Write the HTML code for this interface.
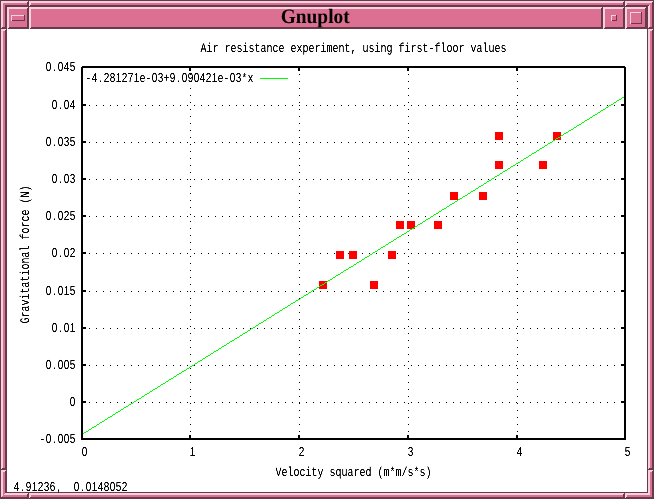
<!DOCTYPE html>
<html lang="en"><head><meta charset="utf-8"><title>Gnuplot</title>
<style>
html,body{margin:0;padding:0;background:#fff;}
body{width:654px;height:499px;overflow:hidden;}
svg{display:block;}
.z{font-family:'Liberation Sans',sans-serif;}
</style></head><body>
<svg width="654" height="499" viewBox="0 0 654 499" shape-rendering="crispEdges" text-rendering="geometricPrecision">
<g id="frame">
<rect x="0" y="0" width="654" height="499" fill="#68384B"/>
<rect x="1" y="1" width="653" height="498" fill="#68384B"/>
<rect x="3" y="3" width="649" height="494" fill="#DC7093"/>
<rect x="1" y="1" width="652" height="1" fill="#F5D2DD"/>
<rect x="1" y="1" width="1" height="498" fill="#F5D2DD"/>
<rect x="1" y="2" width="651" height="1" fill="#F5D2DD"/>
<rect x="2" y="1" width="1" height="497" fill="#F5D2DD"/>
<rect x="5" y="5" width="645" height="490" fill="#F5D2DD"/>
<rect x="7" y="7" width="641" height="486" fill="#DC7093"/>
<rect x="5" y="5" width="644" height="1" fill="#68384B"/>
<rect x="5" y="5" width="1" height="490" fill="#68384B"/>
<rect x="5" y="6" width="643" height="1" fill="#68384B"/>
<rect x="6" y="5" width="1" height="489" fill="#68384B"/>
<rect x="7" y="492" width="641" height="1" fill="#68384B"/>
<rect x="647" y="7" width="1" height="486" fill="#68384B"/>
<rect x="1" y="497" width="2" height="2" fill="#68384B"/>
<rect x="2" y="496" width="1" height="1" fill="#DC7093"/>
<rect x="5" y="493" width="2" height="2" fill="#F5D2DD"/>
<rect x="4" y="494" width="1" height="1" fill="#F5D2DD"/>
<rect x="27" y="2" width="1" height="5" fill="#68384B"/>
<rect x="28" y="1" width="1" height="6" fill="#68384B"/>
<rect x="29" y="1" width="1" height="5" fill="#F5D2DD"/>
<rect x="30" y="1" width="1" height="4" fill="#F5D2DD"/>
<rect x="623" y="2" width="1" height="5" fill="#68384B"/>
<rect x="624" y="1" width="1" height="6" fill="#68384B"/>
<rect x="625" y="1" width="1" height="5" fill="#F5D2DD"/>
<rect x="626" y="1" width="1" height="4" fill="#F5D2DD"/>
<rect x="27" y="494" width="1" height="5" fill="#68384B"/>
<rect x="28" y="493" width="1" height="6" fill="#68384B"/>
<rect x="29" y="493" width="1" height="5" fill="#F5D2DD"/>
<rect x="30" y="493" width="1" height="4" fill="#F5D2DD"/>
<rect x="623" y="494" width="1" height="5" fill="#68384B"/>
<rect x="624" y="493" width="1" height="6" fill="#68384B"/>
<rect x="625" y="493" width="1" height="5" fill="#F5D2DD"/>
<rect x="626" y="493" width="1" height="4" fill="#F5D2DD"/>
<rect x="2" y="27" width="5" height="1" fill="#68384B"/>
<rect x="1" y="28" width="6" height="1" fill="#68384B"/>
<rect x="1" y="29" width="5" height="1" fill="#F5D2DD"/>
<rect x="1" y="30" width="4" height="1" fill="#F5D2DD"/>
<rect x="2" y="468" width="5" height="1" fill="#68384B"/>
<rect x="1" y="469" width="6" height="1" fill="#68384B"/>
<rect x="1" y="470" width="5" height="1" fill="#F5D2DD"/>
<rect x="1" y="471" width="4" height="1" fill="#F5D2DD"/>
<rect x="649" y="27" width="5" height="1" fill="#68384B"/>
<rect x="648" y="28" width="6" height="1" fill="#68384B"/>
<rect x="648" y="29" width="5" height="1" fill="#F5D2DD"/>
<rect x="648" y="30" width="4" height="1" fill="#F5D2DD"/>
<rect x="649" y="468" width="5" height="1" fill="#68384B"/>
<rect x="648" y="469" width="6" height="1" fill="#68384B"/>
<rect x="648" y="470" width="5" height="1" fill="#F5D2DD"/>
<rect x="648" y="471" width="4" height="1" fill="#F5D2DD"/>
</g>
<g id="titlebar">
<rect x="7" y="7" width="22" height="22" fill="#68384B"/>
<rect x="9" y="9" width="18" height="18" fill="#DC7093"/>
<rect x="7" y="7" width="21" height="1" fill="#F5D2DD"/>
<rect x="7" y="7" width="1" height="22" fill="#F5D2DD"/>
<rect x="7" y="8" width="20" height="1" fill="#F5D2DD"/>
<rect x="8" y="7" width="1" height="21" fill="#F5D2DD"/>
<rect x="29" y="7" width="574" height="22" fill="#68384B"/>
<rect x="31" y="9" width="570" height="18" fill="#DC7093"/>
<rect x="29" y="7" width="573" height="1" fill="#F5D2DD"/>
<rect x="29" y="7" width="1" height="22" fill="#F5D2DD"/>
<rect x="29" y="8" width="572" height="1" fill="#F5D2DD"/>
<rect x="30" y="7" width="1" height="21" fill="#F5D2DD"/>
<rect x="603" y="7" width="22" height="22" fill="#68384B"/>
<rect x="605" y="9" width="18" height="18" fill="#DC7093"/>
<rect x="603" y="7" width="21" height="1" fill="#F5D2DD"/>
<rect x="603" y="7" width="1" height="22" fill="#F5D2DD"/>
<rect x="603" y="8" width="20" height="1" fill="#F5D2DD"/>
<rect x="604" y="7" width="1" height="21" fill="#F5D2DD"/>
<rect x="625" y="7" width="22" height="22" fill="#68384B"/>
<rect x="627" y="9" width="18" height="18" fill="#DC7093"/>
<rect x="625" y="7" width="21" height="1" fill="#F5D2DD"/>
<rect x="625" y="7" width="1" height="22" fill="#F5D2DD"/>
<rect x="625" y="8" width="20" height="1" fill="#F5D2DD"/>
<rect x="626" y="7" width="1" height="21" fill="#F5D2DD"/>
<rect x="11" y="15" width="14" height="6" fill="#68384B"/>
<rect x="12" y="16" width="12" height="4" fill="#DC7093"/>
<rect x="11" y="15" width="13" height="1" fill="#F5D2DD"/>
<rect x="11" y="15" width="1" height="6" fill="#F5D2DD"/>
<rect x="611" y="15" width="6" height="6" fill="#68384B"/>
<rect x="612" y="16" width="4" height="4" fill="#DC7093"/>
<rect x="611" y="15" width="5" height="1" fill="#F5D2DD"/>
<rect x="611" y="15" width="1" height="6" fill="#F5D2DD"/>
<rect x="630" y="12" width="12" height="12" fill="#68384B"/>
<rect x="631" y="13" width="10" height="10" fill="#DC7093"/>
<rect x="630" y="12" width="11" height="1" fill="#F5D2DD"/>
<rect x="630" y="12" width="1" height="12" fill="#F5D2DD"/>
<text x="315.2" y="23" text-anchor="middle" font-family="'Liberation Serif',serif" font-weight="bold" font-size="20.4" textLength="69" lengthAdjust="spacingAndGlyphs" fill="#000">Gnuplot</text>
</g>
<rect x="7" y="29" width="640" height="463" fill="#fff"/>
<g id="grid" fill="#000">
<path d="M89 402h1v1h-1zM96 402h1v1h-1zM103 402h1v1h-1zM110 402h1v1h-1zM117 402h1v1h-1zM124 402h1v1h-1zM131 402h1v1h-1zM138 402h1v1h-1zM145 402h1v1h-1zM152 402h1v1h-1zM159 402h1v1h-1zM166 402h1v1h-1zM173 402h1v1h-1zM180 402h1v1h-1zM187 402h1v1h-1zM194 402h1v1h-1zM201 402h1v1h-1zM208 402h1v1h-1zM215 402h1v1h-1zM222 402h1v1h-1zM229 402h1v1h-1zM236 402h1v1h-1zM243 402h1v1h-1zM250 402h1v1h-1zM257 402h1v1h-1zM264 402h1v1h-1zM271 402h1v1h-1zM278 402h1v1h-1zM285 402h1v1h-1zM292 402h1v1h-1zM299 402h1v1h-1zM306 402h1v1h-1zM313 402h1v1h-1zM320 402h1v1h-1zM327 402h1v1h-1zM334 402h1v1h-1zM341 402h1v1h-1zM348 402h1v1h-1zM355 402h1v1h-1zM362 402h1v1h-1zM369 402h1v1h-1zM376 402h1v1h-1zM383 402h1v1h-1zM390 402h1v1h-1zM397 402h1v1h-1zM404 402h1v1h-1zM411 402h1v1h-1zM418 402h1v1h-1zM425 402h1v1h-1zM432 402h1v1h-1zM439 402h1v1h-1zM446 402h1v1h-1zM453 402h1v1h-1zM460 402h1v1h-1zM467 402h1v1h-1zM474 402h1v1h-1zM481 402h1v1h-1zM488 402h1v1h-1zM495 402h1v1h-1zM502 402h1v1h-1zM509 402h1v1h-1zM516 402h1v1h-1zM523 402h1v1h-1zM530 402h1v1h-1zM537 402h1v1h-1zM544 402h1v1h-1zM551 402h1v1h-1zM558 402h1v1h-1zM565 402h1v1h-1zM572 402h1v1h-1zM579 402h1v1h-1zM586 402h1v1h-1zM593 402h1v1h-1zM600 402h1v1h-1zM607 402h1v1h-1zM614 402h1v1h-1zM621 402h1v1h-1zM89 365h1v1h-1zM96 365h1v1h-1zM103 365h1v1h-1zM110 365h1v1h-1zM117 365h1v1h-1zM124 365h1v1h-1zM131 365h1v1h-1zM138 365h1v1h-1zM145 365h1v1h-1zM152 365h1v1h-1zM159 365h1v1h-1zM166 365h1v1h-1zM173 365h1v1h-1zM180 365h1v1h-1zM187 365h1v1h-1zM194 365h1v1h-1zM201 365h1v1h-1zM208 365h1v1h-1zM215 365h1v1h-1zM222 365h1v1h-1zM229 365h1v1h-1zM236 365h1v1h-1zM243 365h1v1h-1zM250 365h1v1h-1zM257 365h1v1h-1zM264 365h1v1h-1zM271 365h1v1h-1zM278 365h1v1h-1zM285 365h1v1h-1zM292 365h1v1h-1zM299 365h1v1h-1zM306 365h1v1h-1zM313 365h1v1h-1zM320 365h1v1h-1zM327 365h1v1h-1zM334 365h1v1h-1zM341 365h1v1h-1zM348 365h1v1h-1zM355 365h1v1h-1zM362 365h1v1h-1zM369 365h1v1h-1zM376 365h1v1h-1zM383 365h1v1h-1zM390 365h1v1h-1zM397 365h1v1h-1zM404 365h1v1h-1zM411 365h1v1h-1zM418 365h1v1h-1zM425 365h1v1h-1zM432 365h1v1h-1zM439 365h1v1h-1zM446 365h1v1h-1zM453 365h1v1h-1zM460 365h1v1h-1zM467 365h1v1h-1zM474 365h1v1h-1zM481 365h1v1h-1zM488 365h1v1h-1zM495 365h1v1h-1zM502 365h1v1h-1zM509 365h1v1h-1zM516 365h1v1h-1zM523 365h1v1h-1zM530 365h1v1h-1zM537 365h1v1h-1zM544 365h1v1h-1zM551 365h1v1h-1zM558 365h1v1h-1zM565 365h1v1h-1zM572 365h1v1h-1zM579 365h1v1h-1zM586 365h1v1h-1zM593 365h1v1h-1zM600 365h1v1h-1zM607 365h1v1h-1zM614 365h1v1h-1zM621 365h1v1h-1zM89 328h1v1h-1zM96 328h1v1h-1zM103 328h1v1h-1zM110 328h1v1h-1zM117 328h1v1h-1zM124 328h1v1h-1zM131 328h1v1h-1zM138 328h1v1h-1zM145 328h1v1h-1zM152 328h1v1h-1zM159 328h1v1h-1zM166 328h1v1h-1zM173 328h1v1h-1zM180 328h1v1h-1zM187 328h1v1h-1zM194 328h1v1h-1zM201 328h1v1h-1zM208 328h1v1h-1zM215 328h1v1h-1zM222 328h1v1h-1zM229 328h1v1h-1zM236 328h1v1h-1zM243 328h1v1h-1zM250 328h1v1h-1zM257 328h1v1h-1zM264 328h1v1h-1zM271 328h1v1h-1zM278 328h1v1h-1zM285 328h1v1h-1zM292 328h1v1h-1zM299 328h1v1h-1zM306 328h1v1h-1zM313 328h1v1h-1zM320 328h1v1h-1zM327 328h1v1h-1zM334 328h1v1h-1zM341 328h1v1h-1zM348 328h1v1h-1zM355 328h1v1h-1zM362 328h1v1h-1zM369 328h1v1h-1zM376 328h1v1h-1zM383 328h1v1h-1zM390 328h1v1h-1zM397 328h1v1h-1zM404 328h1v1h-1zM411 328h1v1h-1zM418 328h1v1h-1zM425 328h1v1h-1zM432 328h1v1h-1zM439 328h1v1h-1zM446 328h1v1h-1zM453 328h1v1h-1zM460 328h1v1h-1zM467 328h1v1h-1zM474 328h1v1h-1zM481 328h1v1h-1zM488 328h1v1h-1zM495 328h1v1h-1zM502 328h1v1h-1zM509 328h1v1h-1zM516 328h1v1h-1zM523 328h1v1h-1zM530 328h1v1h-1zM537 328h1v1h-1zM544 328h1v1h-1zM551 328h1v1h-1zM558 328h1v1h-1zM565 328h1v1h-1zM572 328h1v1h-1zM579 328h1v1h-1zM586 328h1v1h-1zM593 328h1v1h-1zM600 328h1v1h-1zM607 328h1v1h-1zM614 328h1v1h-1zM621 328h1v1h-1zM89 291h1v1h-1zM96 291h1v1h-1zM103 291h1v1h-1zM110 291h1v1h-1zM117 291h1v1h-1zM124 291h1v1h-1zM131 291h1v1h-1zM138 291h1v1h-1zM145 291h1v1h-1zM152 291h1v1h-1zM159 291h1v1h-1zM166 291h1v1h-1zM173 291h1v1h-1zM180 291h1v1h-1zM187 291h1v1h-1zM194 291h1v1h-1zM201 291h1v1h-1zM208 291h1v1h-1zM215 291h1v1h-1zM222 291h1v1h-1zM229 291h1v1h-1zM236 291h1v1h-1zM243 291h1v1h-1zM250 291h1v1h-1zM257 291h1v1h-1zM264 291h1v1h-1zM271 291h1v1h-1zM278 291h1v1h-1zM285 291h1v1h-1zM292 291h1v1h-1zM299 291h1v1h-1zM306 291h1v1h-1zM313 291h1v1h-1zM320 291h1v1h-1zM327 291h1v1h-1zM334 291h1v1h-1zM341 291h1v1h-1zM348 291h1v1h-1zM355 291h1v1h-1zM362 291h1v1h-1zM369 291h1v1h-1zM376 291h1v1h-1zM383 291h1v1h-1zM390 291h1v1h-1zM397 291h1v1h-1zM404 291h1v1h-1zM411 291h1v1h-1zM418 291h1v1h-1zM425 291h1v1h-1zM432 291h1v1h-1zM439 291h1v1h-1zM446 291h1v1h-1zM453 291h1v1h-1zM460 291h1v1h-1zM467 291h1v1h-1zM474 291h1v1h-1zM481 291h1v1h-1zM488 291h1v1h-1zM495 291h1v1h-1zM502 291h1v1h-1zM509 291h1v1h-1zM516 291h1v1h-1zM523 291h1v1h-1zM530 291h1v1h-1zM537 291h1v1h-1zM544 291h1v1h-1zM551 291h1v1h-1zM558 291h1v1h-1zM565 291h1v1h-1zM572 291h1v1h-1zM579 291h1v1h-1zM586 291h1v1h-1zM593 291h1v1h-1zM600 291h1v1h-1zM607 291h1v1h-1zM614 291h1v1h-1zM621 291h1v1h-1zM89 253h1v1h-1zM96 253h1v1h-1zM103 253h1v1h-1zM110 253h1v1h-1zM117 253h1v1h-1zM124 253h1v1h-1zM131 253h1v1h-1zM138 253h1v1h-1zM145 253h1v1h-1zM152 253h1v1h-1zM159 253h1v1h-1zM166 253h1v1h-1zM173 253h1v1h-1zM180 253h1v1h-1zM187 253h1v1h-1zM194 253h1v1h-1zM201 253h1v1h-1zM208 253h1v1h-1zM215 253h1v1h-1zM222 253h1v1h-1zM229 253h1v1h-1zM236 253h1v1h-1zM243 253h1v1h-1zM250 253h1v1h-1zM257 253h1v1h-1zM264 253h1v1h-1zM271 253h1v1h-1zM278 253h1v1h-1zM285 253h1v1h-1zM292 253h1v1h-1zM299 253h1v1h-1zM306 253h1v1h-1zM313 253h1v1h-1zM320 253h1v1h-1zM327 253h1v1h-1zM334 253h1v1h-1zM341 253h1v1h-1zM348 253h1v1h-1zM355 253h1v1h-1zM362 253h1v1h-1zM369 253h1v1h-1zM376 253h1v1h-1zM383 253h1v1h-1zM390 253h1v1h-1zM397 253h1v1h-1zM404 253h1v1h-1zM411 253h1v1h-1zM418 253h1v1h-1zM425 253h1v1h-1zM432 253h1v1h-1zM439 253h1v1h-1zM446 253h1v1h-1zM453 253h1v1h-1zM460 253h1v1h-1zM467 253h1v1h-1zM474 253h1v1h-1zM481 253h1v1h-1zM488 253h1v1h-1zM495 253h1v1h-1zM502 253h1v1h-1zM509 253h1v1h-1zM516 253h1v1h-1zM523 253h1v1h-1zM530 253h1v1h-1zM537 253h1v1h-1zM544 253h1v1h-1zM551 253h1v1h-1zM558 253h1v1h-1zM565 253h1v1h-1zM572 253h1v1h-1zM579 253h1v1h-1zM586 253h1v1h-1zM593 253h1v1h-1zM600 253h1v1h-1zM607 253h1v1h-1zM614 253h1v1h-1zM621 253h1v1h-1zM89 216h1v1h-1zM96 216h1v1h-1zM103 216h1v1h-1zM110 216h1v1h-1zM117 216h1v1h-1zM124 216h1v1h-1zM131 216h1v1h-1zM138 216h1v1h-1zM145 216h1v1h-1zM152 216h1v1h-1zM159 216h1v1h-1zM166 216h1v1h-1zM173 216h1v1h-1zM180 216h1v1h-1zM187 216h1v1h-1zM194 216h1v1h-1zM201 216h1v1h-1zM208 216h1v1h-1zM215 216h1v1h-1zM222 216h1v1h-1zM229 216h1v1h-1zM236 216h1v1h-1zM243 216h1v1h-1zM250 216h1v1h-1zM257 216h1v1h-1zM264 216h1v1h-1zM271 216h1v1h-1zM278 216h1v1h-1zM285 216h1v1h-1zM292 216h1v1h-1zM299 216h1v1h-1zM306 216h1v1h-1zM313 216h1v1h-1zM320 216h1v1h-1zM327 216h1v1h-1zM334 216h1v1h-1zM341 216h1v1h-1zM348 216h1v1h-1zM355 216h1v1h-1zM362 216h1v1h-1zM369 216h1v1h-1zM376 216h1v1h-1zM383 216h1v1h-1zM390 216h1v1h-1zM397 216h1v1h-1zM404 216h1v1h-1zM411 216h1v1h-1zM418 216h1v1h-1zM425 216h1v1h-1zM432 216h1v1h-1zM439 216h1v1h-1zM446 216h1v1h-1zM453 216h1v1h-1zM460 216h1v1h-1zM467 216h1v1h-1zM474 216h1v1h-1zM481 216h1v1h-1zM488 216h1v1h-1zM495 216h1v1h-1zM502 216h1v1h-1zM509 216h1v1h-1zM516 216h1v1h-1zM523 216h1v1h-1zM530 216h1v1h-1zM537 216h1v1h-1zM544 216h1v1h-1zM551 216h1v1h-1zM558 216h1v1h-1zM565 216h1v1h-1zM572 216h1v1h-1zM579 216h1v1h-1zM586 216h1v1h-1zM593 216h1v1h-1zM600 216h1v1h-1zM607 216h1v1h-1zM614 216h1v1h-1zM621 216h1v1h-1zM89 179h1v1h-1zM96 179h1v1h-1zM103 179h1v1h-1zM110 179h1v1h-1zM117 179h1v1h-1zM124 179h1v1h-1zM131 179h1v1h-1zM138 179h1v1h-1zM145 179h1v1h-1zM152 179h1v1h-1zM159 179h1v1h-1zM166 179h1v1h-1zM173 179h1v1h-1zM180 179h1v1h-1zM187 179h1v1h-1zM194 179h1v1h-1zM201 179h1v1h-1zM208 179h1v1h-1zM215 179h1v1h-1zM222 179h1v1h-1zM229 179h1v1h-1zM236 179h1v1h-1zM243 179h1v1h-1zM250 179h1v1h-1zM257 179h1v1h-1zM264 179h1v1h-1zM271 179h1v1h-1zM278 179h1v1h-1zM285 179h1v1h-1zM292 179h1v1h-1zM299 179h1v1h-1zM306 179h1v1h-1zM313 179h1v1h-1zM320 179h1v1h-1zM327 179h1v1h-1zM334 179h1v1h-1zM341 179h1v1h-1zM348 179h1v1h-1zM355 179h1v1h-1zM362 179h1v1h-1zM369 179h1v1h-1zM376 179h1v1h-1zM383 179h1v1h-1zM390 179h1v1h-1zM397 179h1v1h-1zM404 179h1v1h-1zM411 179h1v1h-1zM418 179h1v1h-1zM425 179h1v1h-1zM432 179h1v1h-1zM439 179h1v1h-1zM446 179h1v1h-1zM453 179h1v1h-1zM460 179h1v1h-1zM467 179h1v1h-1zM474 179h1v1h-1zM481 179h1v1h-1zM488 179h1v1h-1zM495 179h1v1h-1zM502 179h1v1h-1zM509 179h1v1h-1zM516 179h1v1h-1zM523 179h1v1h-1zM530 179h1v1h-1zM537 179h1v1h-1zM544 179h1v1h-1zM551 179h1v1h-1zM558 179h1v1h-1zM565 179h1v1h-1zM572 179h1v1h-1zM579 179h1v1h-1zM586 179h1v1h-1zM593 179h1v1h-1zM600 179h1v1h-1zM607 179h1v1h-1zM614 179h1v1h-1zM621 179h1v1h-1zM89 142h1v1h-1zM96 142h1v1h-1zM103 142h1v1h-1zM110 142h1v1h-1zM117 142h1v1h-1zM124 142h1v1h-1zM131 142h1v1h-1zM138 142h1v1h-1zM145 142h1v1h-1zM152 142h1v1h-1zM159 142h1v1h-1zM166 142h1v1h-1zM173 142h1v1h-1zM180 142h1v1h-1zM187 142h1v1h-1zM194 142h1v1h-1zM201 142h1v1h-1zM208 142h1v1h-1zM215 142h1v1h-1zM222 142h1v1h-1zM229 142h1v1h-1zM236 142h1v1h-1zM243 142h1v1h-1zM250 142h1v1h-1zM257 142h1v1h-1zM264 142h1v1h-1zM271 142h1v1h-1zM278 142h1v1h-1zM285 142h1v1h-1zM292 142h1v1h-1zM299 142h1v1h-1zM306 142h1v1h-1zM313 142h1v1h-1zM320 142h1v1h-1zM327 142h1v1h-1zM334 142h1v1h-1zM341 142h1v1h-1zM348 142h1v1h-1zM355 142h1v1h-1zM362 142h1v1h-1zM369 142h1v1h-1zM376 142h1v1h-1zM383 142h1v1h-1zM390 142h1v1h-1zM397 142h1v1h-1zM404 142h1v1h-1zM411 142h1v1h-1zM418 142h1v1h-1zM425 142h1v1h-1zM432 142h1v1h-1zM439 142h1v1h-1zM446 142h1v1h-1zM453 142h1v1h-1zM460 142h1v1h-1zM467 142h1v1h-1zM474 142h1v1h-1zM481 142h1v1h-1zM488 142h1v1h-1zM495 142h1v1h-1zM502 142h1v1h-1zM509 142h1v1h-1zM516 142h1v1h-1zM523 142h1v1h-1zM530 142h1v1h-1zM537 142h1v1h-1zM544 142h1v1h-1zM551 142h1v1h-1zM558 142h1v1h-1zM565 142h1v1h-1zM572 142h1v1h-1zM579 142h1v1h-1zM586 142h1v1h-1zM593 142h1v1h-1zM600 142h1v1h-1zM607 142h1v1h-1zM614 142h1v1h-1zM621 142h1v1h-1zM89 105h1v1h-1zM96 105h1v1h-1zM103 105h1v1h-1zM110 105h1v1h-1zM117 105h1v1h-1zM124 105h1v1h-1zM131 105h1v1h-1zM138 105h1v1h-1zM145 105h1v1h-1zM152 105h1v1h-1zM159 105h1v1h-1zM166 105h1v1h-1zM173 105h1v1h-1zM180 105h1v1h-1zM187 105h1v1h-1zM194 105h1v1h-1zM201 105h1v1h-1zM208 105h1v1h-1zM215 105h1v1h-1zM222 105h1v1h-1zM229 105h1v1h-1zM236 105h1v1h-1zM243 105h1v1h-1zM250 105h1v1h-1zM257 105h1v1h-1zM264 105h1v1h-1zM271 105h1v1h-1zM278 105h1v1h-1zM285 105h1v1h-1zM292 105h1v1h-1zM299 105h1v1h-1zM306 105h1v1h-1zM313 105h1v1h-1zM320 105h1v1h-1zM327 105h1v1h-1zM334 105h1v1h-1zM341 105h1v1h-1zM348 105h1v1h-1zM355 105h1v1h-1zM362 105h1v1h-1zM369 105h1v1h-1zM376 105h1v1h-1zM383 105h1v1h-1zM390 105h1v1h-1zM397 105h1v1h-1zM404 105h1v1h-1zM411 105h1v1h-1zM418 105h1v1h-1zM425 105h1v1h-1zM432 105h1v1h-1zM439 105h1v1h-1zM446 105h1v1h-1zM453 105h1v1h-1zM460 105h1v1h-1zM467 105h1v1h-1zM474 105h1v1h-1zM481 105h1v1h-1zM488 105h1v1h-1zM495 105h1v1h-1zM502 105h1v1h-1zM509 105h1v1h-1zM516 105h1v1h-1zM523 105h1v1h-1zM530 105h1v1h-1zM537 105h1v1h-1zM544 105h1v1h-1zM551 105h1v1h-1zM558 105h1v1h-1zM565 105h1v1h-1zM572 105h1v1h-1zM579 105h1v1h-1zM586 105h1v1h-1zM593 105h1v1h-1zM600 105h1v1h-1zM607 105h1v1h-1zM614 105h1v1h-1zM621 105h1v1h-1zM190 74h1v1h-1zM190 81h1v1h-1zM190 88h1v1h-1zM190 95h1v1h-1zM190 102h1v1h-1zM190 109h1v1h-1zM190 116h1v1h-1zM190 123h1v1h-1zM190 130h1v1h-1zM190 137h1v1h-1zM190 144h1v1h-1zM190 151h1v1h-1zM190 158h1v1h-1zM190 165h1v1h-1zM190 172h1v1h-1zM190 179h1v1h-1zM190 186h1v1h-1zM190 193h1v1h-1zM190 200h1v1h-1zM190 207h1v1h-1zM190 214h1v1h-1zM190 221h1v1h-1zM190 228h1v1h-1zM190 235h1v1h-1zM190 242h1v1h-1zM190 249h1v1h-1zM190 256h1v1h-1zM190 263h1v1h-1zM190 270h1v1h-1zM190 277h1v1h-1zM190 284h1v1h-1zM190 291h1v1h-1zM190 298h1v1h-1zM190 305h1v1h-1zM190 312h1v1h-1zM190 319h1v1h-1zM190 326h1v1h-1zM190 333h1v1h-1zM190 340h1v1h-1zM190 347h1v1h-1zM190 354h1v1h-1zM190 361h1v1h-1zM190 368h1v1h-1zM190 375h1v1h-1zM190 382h1v1h-1zM190 389h1v1h-1zM190 396h1v1h-1zM190 403h1v1h-1zM190 410h1v1h-1zM190 417h1v1h-1zM190 424h1v1h-1zM190 431h1v1h-1zM299 74h1v1h-1zM299 81h1v1h-1zM299 88h1v1h-1zM299 95h1v1h-1zM299 102h1v1h-1zM299 109h1v1h-1zM299 116h1v1h-1zM299 123h1v1h-1zM299 130h1v1h-1zM299 137h1v1h-1zM299 144h1v1h-1zM299 151h1v1h-1zM299 158h1v1h-1zM299 165h1v1h-1zM299 172h1v1h-1zM299 179h1v1h-1zM299 186h1v1h-1zM299 193h1v1h-1zM299 200h1v1h-1zM299 207h1v1h-1zM299 214h1v1h-1zM299 221h1v1h-1zM299 228h1v1h-1zM299 235h1v1h-1zM299 242h1v1h-1zM299 249h1v1h-1zM299 256h1v1h-1zM299 263h1v1h-1zM299 270h1v1h-1zM299 277h1v1h-1zM299 284h1v1h-1zM299 291h1v1h-1zM299 298h1v1h-1zM299 305h1v1h-1zM299 312h1v1h-1zM299 319h1v1h-1zM299 326h1v1h-1zM299 333h1v1h-1zM299 340h1v1h-1zM299 347h1v1h-1zM299 354h1v1h-1zM299 361h1v1h-1zM299 368h1v1h-1zM299 375h1v1h-1zM299 382h1v1h-1zM299 389h1v1h-1zM299 396h1v1h-1zM299 403h1v1h-1zM299 410h1v1h-1zM299 417h1v1h-1zM299 424h1v1h-1zM299 431h1v1h-1zM408 74h1v1h-1zM408 81h1v1h-1zM408 88h1v1h-1zM408 95h1v1h-1zM408 102h1v1h-1zM408 109h1v1h-1zM408 116h1v1h-1zM408 123h1v1h-1zM408 130h1v1h-1zM408 137h1v1h-1zM408 144h1v1h-1zM408 151h1v1h-1zM408 158h1v1h-1zM408 165h1v1h-1zM408 172h1v1h-1zM408 179h1v1h-1zM408 186h1v1h-1zM408 193h1v1h-1zM408 200h1v1h-1zM408 207h1v1h-1zM408 214h1v1h-1zM408 221h1v1h-1zM408 228h1v1h-1zM408 235h1v1h-1zM408 242h1v1h-1zM408 249h1v1h-1zM408 256h1v1h-1zM408 263h1v1h-1zM408 270h1v1h-1zM408 277h1v1h-1zM408 284h1v1h-1zM408 291h1v1h-1zM408 298h1v1h-1zM408 305h1v1h-1zM408 312h1v1h-1zM408 319h1v1h-1zM408 326h1v1h-1zM408 333h1v1h-1zM408 340h1v1h-1zM408 347h1v1h-1zM408 354h1v1h-1zM408 361h1v1h-1zM408 368h1v1h-1zM408 375h1v1h-1zM408 382h1v1h-1zM408 389h1v1h-1zM408 396h1v1h-1zM408 403h1v1h-1zM408 410h1v1h-1zM408 417h1v1h-1zM408 424h1v1h-1zM408 431h1v1h-1zM517 74h1v1h-1zM517 81h1v1h-1zM517 88h1v1h-1zM517 95h1v1h-1zM517 102h1v1h-1zM517 109h1v1h-1zM517 116h1v1h-1zM517 123h1v1h-1zM517 130h1v1h-1zM517 137h1v1h-1zM517 144h1v1h-1zM517 151h1v1h-1zM517 158h1v1h-1zM517 165h1v1h-1zM517 172h1v1h-1zM517 179h1v1h-1zM517 186h1v1h-1zM517 193h1v1h-1zM517 200h1v1h-1zM517 207h1v1h-1zM517 214h1v1h-1zM517 221h1v1h-1zM517 228h1v1h-1zM517 235h1v1h-1zM517 242h1v1h-1zM517 249h1v1h-1zM517 256h1v1h-1zM517 263h1v1h-1zM517 270h1v1h-1zM517 277h1v1h-1zM517 284h1v1h-1zM517 291h1v1h-1zM517 298h1v1h-1zM517 305h1v1h-1zM517 312h1v1h-1zM517 319h1v1h-1zM517 326h1v1h-1zM517 333h1v1h-1zM517 340h1v1h-1zM517 347h1v1h-1zM517 354h1v1h-1zM517 361h1v1h-1zM517 368h1v1h-1zM517 375h1v1h-1zM517 382h1v1h-1zM517 389h1v1h-1zM517 396h1v1h-1zM517 403h1v1h-1zM517 410h1v1h-1zM517 417h1v1h-1zM517 424h1v1h-1zM517 431h1v1h-1z"/>
</g>
<g id="points" fill="#f00">
<rect x="319" y="281" width="8" height="8" fill="#f00"/>
<rect x="336" y="251" width="8" height="8" fill="#f00"/>
<rect x="349" y="251" width="8" height="8" fill="#f00"/>
<rect x="370" y="281" width="8" height="8" fill="#f00"/>
<rect x="388" y="251" width="8" height="8" fill="#f00"/>
<rect x="396" y="221" width="8" height="8" fill="#f00"/>
<rect x="407" y="221" width="8" height="8" fill="#f00"/>
<rect x="434" y="221" width="8" height="8" fill="#f00"/>
<rect x="450" y="192" width="8" height="8" fill="#f00"/>
<rect x="479" y="192" width="8" height="8" fill="#f00"/>
<rect x="495" y="132" width="8" height="8" fill="#f00"/>
<rect x="495" y="161" width="8" height="8" fill="#f00"/>
<rect x="539" y="161" width="8" height="8" fill="#f00"/>
<rect x="553" y="132" width="8" height="8" fill="#f00"/>
</g>
<g id="axes" fill="#000">
<path fill-rule="evenodd" d="M82 66H625V67H626V440H81V67H82ZM83 68V438H624V68Z"/>
<rect x="83" y="401" width="3" height="2" fill="#000"/>
<rect x="621" y="401" width="3" height="2" fill="#000"/>
<rect x="83" y="364" width="3" height="2" fill="#000"/>
<rect x="621" y="364" width="3" height="2" fill="#000"/>
<rect x="83" y="327" width="3" height="2" fill="#000"/>
<rect x="621" y="327" width="3" height="2" fill="#000"/>
<rect x="83" y="290" width="3" height="2" fill="#000"/>
<rect x="621" y="290" width="3" height="2" fill="#000"/>
<rect x="83" y="252" width="3" height="2" fill="#000"/>
<rect x="621" y="252" width="3" height="2" fill="#000"/>
<rect x="83" y="215" width="3" height="2" fill="#000"/>
<rect x="621" y="215" width="3" height="2" fill="#000"/>
<rect x="83" y="178" width="3" height="2" fill="#000"/>
<rect x="621" y="178" width="3" height="2" fill="#000"/>
<rect x="83" y="141" width="3" height="2" fill="#000"/>
<rect x="621" y="141" width="3" height="2" fill="#000"/>
<rect x="83" y="104" width="3" height="2" fill="#000"/>
<rect x="621" y="104" width="3" height="2" fill="#000"/>
<rect x="189" y="68" width="2" height="3" fill="#000"/>
<rect x="189" y="435" width="2" height="3" fill="#000"/>
<rect x="298" y="68" width="2" height="3" fill="#000"/>
<rect x="298" y="435" width="2" height="3" fill="#000"/>
<rect x="407" y="68" width="2" height="3" fill="#000"/>
<rect x="407" y="435" width="2" height="3" fill="#000"/>
<rect x="516" y="68" width="2" height="3" fill="#000"/>
<rect x="516" y="435" width="2" height="3" fill="#000"/>
</g>
<g id="fit" fill="#00ff00">
<path d="M83 433h1v1h-1zM84 432h2v1h-2zM86 431h2v1h-2zM88 430h1v1h-1zM89 429h2v1h-2zM91 428h1v1h-1zM92 427h2v1h-2zM94 426h2v1h-2zM96 425h1v1h-1zM97 424h2v1h-2zM99 423h1v1h-1zM100 422h2v1h-2zM102 421h2v1h-2zM104 420h1v1h-1zM105 419h2v1h-2zM107 418h1v1h-1zM108 417h2v1h-2zM110 416h2v1h-2zM112 415h1v1h-1zM113 414h2v1h-2zM115 413h1v1h-1zM116 412h2v1h-2zM118 411h2v1h-2zM120 410h1v1h-1zM121 409h2v1h-2zM123 408h1v1h-1zM124 407h2v1h-2zM126 406h2v1h-2zM128 405h1v1h-1zM129 404h2v1h-2zM131 403h2v1h-2zM133 402h1v1h-1zM134 401h2v1h-2zM136 400h1v1h-1zM137 399h2v1h-2zM139 398h2v1h-2zM141 397h1v1h-1zM142 396h2v1h-2zM144 395h1v1h-1zM145 394h2v1h-2zM147 393h2v1h-2zM149 392h1v1h-1zM150 391h2v1h-2zM152 390h1v1h-1zM153 389h2v1h-2zM155 388h2v1h-2zM157 387h1v1h-1zM158 386h2v1h-2zM160 385h1v1h-1zM161 384h2v1h-2zM163 383h2v1h-2zM165 382h1v1h-1zM166 381h2v1h-2zM168 380h1v1h-1zM169 379h2v1h-2zM171 378h2v1h-2zM173 377h1v1h-1zM174 376h2v1h-2zM176 375h1v1h-1zM177 374h2v1h-2zM179 373h2v1h-2zM181 372h1v1h-1zM182 371h2v1h-2zM184 370h2v1h-2zM186 369h1v1h-1zM187 368h2v1h-2zM189 367h1v1h-1zM190 366h2v1h-2zM192 365h2v1h-2zM194 364h1v1h-1zM195 363h2v1h-2zM197 362h1v1h-1zM198 361h2v1h-2zM200 360h2v1h-2zM202 359h1v1h-1zM203 358h2v1h-2zM205 357h1v1h-1zM206 356h2v1h-2zM208 355h2v1h-2zM210 354h1v1h-1zM211 353h2v1h-2zM213 352h1v1h-1zM214 351h2v1h-2zM216 350h2v1h-2zM218 349h1v1h-1zM219 348h2v1h-2zM221 347h1v1h-1zM222 346h2v1h-2zM224 345h2v1h-2zM226 344h1v1h-1zM227 343h2v1h-2zM229 342h1v1h-1zM230 341h2v1h-2zM232 340h2v1h-2zM234 339h1v1h-1zM235 338h2v1h-2zM237 337h2v1h-2zM239 336h1v1h-1zM240 335h2v1h-2zM242 334h1v1h-1zM243 333h2v1h-2zM245 332h2v1h-2zM247 331h1v1h-1zM248 330h2v1h-2zM250 329h1v1h-1zM251 328h2v1h-2zM253 327h2v1h-2zM255 326h1v1h-1zM256 325h2v1h-2zM258 324h1v1h-1zM259 323h2v1h-2zM261 322h2v1h-2zM263 321h1v1h-1zM264 320h2v1h-2zM266 319h1v1h-1zM267 318h2v1h-2zM269 317h2v1h-2zM271 316h1v1h-1zM272 315h2v1h-2zM274 314h1v1h-1zM275 313h2v1h-2zM277 312h2v1h-2zM279 311h1v1h-1zM280 310h2v1h-2zM282 309h1v1h-1zM283 308h2v1h-2zM285 307h2v1h-2zM287 306h1v1h-1zM288 305h2v1h-2zM290 304h1v1h-1zM291 303h2v1h-2zM293 302h2v1h-2zM295 301h1v1h-1zM296 300h2v1h-2zM298 299h2v1h-2zM300 298h1v1h-1zM301 297h2v1h-2zM303 296h1v1h-1zM304 295h2v1h-2zM306 294h2v1h-2zM308 293h1v1h-1zM309 292h2v1h-2zM311 291h1v1h-1zM312 290h2v1h-2zM314 289h2v1h-2zM316 288h1v1h-1zM317 287h2v1h-2zM319 286h1v1h-1zM320 285h2v1h-2zM322 284h2v1h-2zM324 283h1v1h-1zM325 282h2v1h-2zM327 281h1v1h-1zM328 280h2v1h-2zM330 279h2v1h-2zM332 278h1v1h-1zM333 277h2v1h-2zM335 276h1v1h-1zM336 275h2v1h-2zM338 274h2v1h-2zM340 273h1v1h-1zM341 272h2v1h-2zM343 271h1v1h-1zM344 270h2v1h-2zM346 269h2v1h-2zM348 268h1v1h-1zM349 267h2v1h-2zM351 266h2v1h-2zM353 265h1v1h-1zM354 264h2v1h-2zM356 263h1v1h-1zM357 262h2v1h-2zM359 261h2v1h-2zM361 260h1v1h-1zM362 259h2v1h-2zM364 258h1v1h-1zM365 257h2v1h-2zM367 256h2v1h-2zM369 255h1v1h-1zM370 254h2v1h-2zM372 253h1v1h-1zM373 252h2v1h-2zM375 251h2v1h-2zM377 250h1v1h-1zM378 249h2v1h-2zM380 248h1v1h-1zM381 247h2v1h-2zM383 246h2v1h-2zM385 245h1v1h-1zM386 244h2v1h-2zM388 243h1v1h-1zM389 242h2v1h-2zM391 241h2v1h-2zM393 240h1v1h-1zM394 239h2v1h-2zM396 238h1v1h-1zM397 237h2v1h-2zM399 236h2v1h-2zM401 235h1v1h-1zM402 234h2v1h-2zM404 233h2v1h-2zM406 232h1v1h-1zM407 231h2v1h-2zM409 230h1v1h-1zM410 229h2v1h-2zM412 228h2v1h-2zM414 227h1v1h-1zM415 226h2v1h-2zM417 225h1v1h-1zM418 224h2v1h-2zM420 223h2v1h-2zM422 222h1v1h-1zM423 221h2v1h-2zM425 220h1v1h-1zM426 219h2v1h-2zM428 218h2v1h-2zM430 217h1v1h-1zM431 216h2v1h-2zM433 215h1v1h-1zM434 214h2v1h-2zM436 213h2v1h-2zM438 212h1v1h-1zM439 211h2v1h-2zM441 210h1v1h-1zM442 209h2v1h-2zM444 208h2v1h-2zM446 207h1v1h-1zM447 206h2v1h-2zM449 205h1v1h-1zM450 204h2v1h-2zM452 203h2v1h-2zM454 202h1v1h-1zM455 201h2v1h-2zM457 200h1v1h-1zM458 199h2v1h-2zM460 198h2v1h-2zM462 197h1v1h-1zM463 196h2v1h-2zM465 195h2v1h-2zM467 194h1v1h-1zM468 193h2v1h-2zM470 192h1v1h-1zM471 191h2v1h-2zM473 190h2v1h-2zM475 189h1v1h-1zM476 188h2v1h-2zM478 187h1v1h-1zM479 186h2v1h-2zM481 185h2v1h-2zM483 184h1v1h-1zM484 183h2v1h-2zM486 182h1v1h-1zM487 181h2v1h-2zM489 180h2v1h-2zM491 179h1v1h-1zM492 178h2v1h-2zM494 177h1v1h-1zM495 176h2v1h-2zM497 175h2v1h-2zM499 174h1v1h-1zM500 173h2v1h-2zM502 172h1v1h-1zM503 171h2v1h-2zM505 170h2v1h-2zM507 169h1v1h-1zM508 168h2v1h-2zM510 167h1v1h-1zM511 166h2v1h-2zM513 165h2v1h-2zM515 164h1v1h-1zM516 163h2v1h-2zM518 162h2v1h-2zM520 161h1v1h-1zM521 160h2v1h-2zM523 159h1v1h-1zM524 158h2v1h-2zM526 157h2v1h-2zM528 156h1v1h-1zM529 155h2v1h-2zM531 154h1v1h-1zM532 153h2v1h-2zM534 152h2v1h-2zM536 151h1v1h-1zM537 150h2v1h-2zM539 149h1v1h-1zM540 148h2v1h-2zM542 147h2v1h-2zM544 146h1v1h-1zM545 145h2v1h-2zM547 144h1v1h-1zM548 143h2v1h-2zM550 142h2v1h-2zM552 141h1v1h-1zM553 140h2v1h-2zM555 139h1v1h-1zM556 138h2v1h-2zM558 137h2v1h-2zM560 136h1v1h-1zM561 135h2v1h-2zM563 134h1v1h-1zM564 133h2v1h-2zM566 132h2v1h-2zM568 131h1v1h-1zM569 130h2v1h-2zM571 129h2v1h-2zM573 128h1v1h-1zM574 127h2v1h-2zM576 126h1v1h-1zM577 125h2v1h-2zM579 124h2v1h-2zM581 123h1v1h-1zM582 122h2v1h-2zM584 121h1v1h-1zM585 120h2v1h-2zM587 119h2v1h-2zM589 118h1v1h-1zM590 117h2v1h-2zM592 116h1v1h-1zM593 115h2v1h-2zM595 114h2v1h-2zM597 113h1v1h-1zM598 112h2v1h-2zM600 111h1v1h-1zM601 110h2v1h-2zM603 109h2v1h-2zM605 108h1v1h-1zM606 107h2v1h-2zM608 106h1v1h-1zM609 105h2v1h-2zM611 104h2v1h-2zM613 103h1v1h-1zM614 102h2v1h-2zM616 101h1v1h-1zM617 100h2v1h-2zM619 99h2v1h-2zM621 98h1v1h-1zM622 97h2v1h-2z"/>
<rect x="260" y="78" width="28" height="1" fill="#00ff00"/>
</g>
<filter id="crisp" x="0" y="0" width="654" height="499" filterUnits="userSpaceOnUse"><feComponentTransfer><feFuncA type="table" tableValues="0 0.04 0.72 1 1"/></feComponentTransfer></filter>
<g id="labels" filter="url(#crisp)" font-family="'Liberation Mono',monospace" font-size="13.1" text-anchor="middle" fill="#000" style="white-space:pre">
<text transform="scale(0.763 1)" x="266.71 274.57 282.44 290.30 298.17 306.03 313.89 321.76 329.62 337.48 345.35 353.21 361.07 368.94 376.80 384.67 392.53 400.39 408.26 416.12 423.98 431.85 439.71 447.58 455.44 463.30 471.17 479.03 486.89 494.76 502.62 510.48 518.35 526.21 534.08 541.94 549.80 557.67 565.53 573.39 581.26 589.12 596.99 604.85 612.71 620.58 628.44 636.30 644.17 652.03 659.90" y="52">Air resistance experiment, using first-floor values</text>
<text class="z" transform="scale(0.763 1)" x="55.70 63.56 71.43 79.29 87.16 95.02" y="443">-0.005</text>
<text class="z" transform="scale(0.763 1)" x="95.02" y="406">0</text>
<text class="z" transform="scale(0.763 1)" x="63.56 71.43 79.29 87.16 95.02" y="369">0.005</text>
<text class="z" transform="scale(0.763 1)" x="71.43 79.29 87.16 95.02" y="332">0.01</text>
<text class="z" transform="scale(0.763 1)" x="63.56 71.43 79.29 87.16 95.02" y="295">0.015</text>
<text class="z" transform="scale(0.763 1)" x="71.43 79.29 87.16 95.02" y="257">0.02</text>
<text class="z" transform="scale(0.763 1)" x="63.56 71.43 79.29 87.16 95.02" y="220">0.025</text>
<text class="z" transform="scale(0.763 1)" x="71.43 79.29 87.16 95.02" y="183">0.03</text>
<text class="z" transform="scale(0.763 1)" x="63.56 71.43 79.29 87.16 95.02" y="146">0.035</text>
<text class="z" transform="scale(0.763 1)" x="71.43 79.29 87.16 95.02" y="109">0.04</text>
<text class="z" transform="scale(0.763 1)" x="63.56 71.43 79.29 87.16 95.02" y="71">0.045</text>
<text class="z" transform="scale(0.763 1)" x="110.75" y="456">0</text>
<text class="z" transform="scale(0.763 1)" x="252.29" y="456">1</text>
<text class="z" transform="scale(0.763 1)" x="395.15" y="456">2</text>
<text class="z" transform="scale(0.763 1)" x="538.01" y="456">3</text>
<text class="z" transform="scale(0.763 1)" x="680.87" y="456">4</text>
<text class="z" transform="scale(0.763 1)" x="822.41" y="456">5</text>
<text transform="scale(0.763 1)" x="365.01 372.87 380.73 388.60 396.46 404.33 412.19 420.05 427.92 435.78 443.64 451.51 459.37 467.23 475.10 482.96 490.83 498.69 506.55 514.42 522.28 530.14 538.01 545.87 553.74 561.60" y="476">Velocity squared (m*m/s*s)</text>
<text class="z" transform="scale(0.763 1)" x="115.99 123.85 131.72 139.58 147.44 155.31 163.17 171.04 178.90 186.76 194.63 202.49 210.35 218.22 226.08 233.94 241.81 249.67 257.54 265.40 273.26 281.13 288.99 296.85 304.72 312.58 320.45 328.31" y="82">-4.281271e-03+9.090421e-03*x</text>
<text class="z" transform="scale(0.763 1)" x="21.63 29.49 37.35 45.22 53.08 60.94 68.81 76.67" y="491">4.91236,</text>
<text class="z" transform="scale(0.763 1)" x="100.26 108.13 115.99 123.85 131.72 139.58 147.44 155.31 163.17" y="491">0.0148052</text>
<text transform="translate(29 323) rotate(-90) scale(0.763 1)" x="3.28 11.14 19.00 26.87 34.73 42.60 50.46 58.32 66.19 74.05 81.91 89.78 97.64 105.50 113.37 121.23 129.10 136.96 144.82 152.69 160.55 168.41 176.28" y="0">Gravitational force (N)</text>
</g>
</svg>
</body></html>
